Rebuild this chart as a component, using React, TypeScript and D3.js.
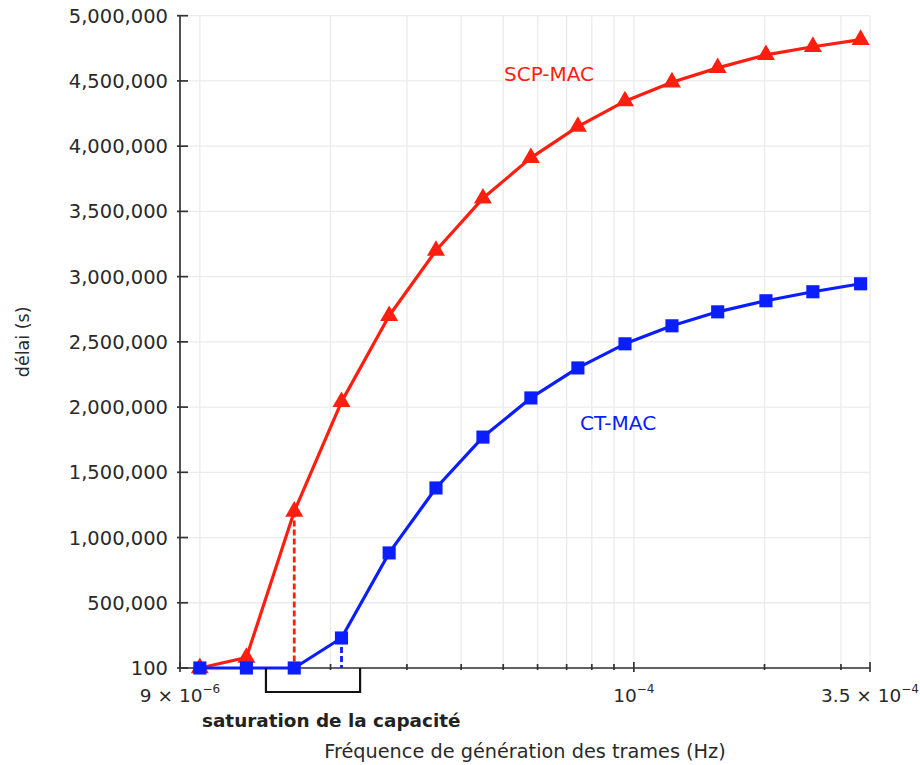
import React from "react";
import * as d3 from "d3";

const freq = [1e-5, 1.28e-5, 1.65e-5, 2.12e-5, 2.73e-5, 3.5e-5, 4.49e-5, 5.79e-5, 7.43e-5, 9.54e-5, 1.224e-4, 1.56e-4, 2.015e-4, 2.585e-4, 3.33e-4];
const scpMac = [100, 80000, 1200000, 2040000, 2700000, 3200000, 3600000, 3910000, 4150000, 4345000, 4490000, 4600000, 4700000, 4762000, 4816000];
const ctMac = [100, 100, 100, 230000, 882000, 1380000, 1770000, 2070000, 2300000, 2485000, 2623000, 2730000, 2815000, 2884000, 2945000];
const yTicks = [100, 500000, 1000000, 1500000, 2000000, 2500000, 3000000, 3500000, 4000000, 4500000, 5000000];
const xMinorTicks = [1e-5, 2e-5, 3e-5, 4e-5, 5e-5, 6e-5, 7e-5, 8e-5, 9e-5, 2e-4, 3e-4];
const xMajorTicks = [9e-6, 1e-4, 3.5e-4];
const xTickLabels = [
  { v: 9e-6, base: "9 \u00d7 10", sup: "\u22126" },
  { v: 1e-4, base: "10", sup: "\u22124" },
  { v: 3.5e-4, base: "3.5 \u00d7 10", sup: "\u22124" },
];
const saturationRange = [1.42e-5, 2.34e-5];
const scpSatIndex = 2;
const ctSatIndex = 3;

const RED = "#ff1e0f";
const BLUE = "#0a1eff";
const FONT = "'DejaVu Sans', sans-serif";

export default function App() {
  const x = d3.scaleLog().domain([9e-6, 3.5e-4]).range([180, 870]);
  const y = d3.scaleLinear().domain([0, 5000000]).range([668, 15.7]);
  const fmt = d3.format(",");
  const line = d3
    .line<[number, number]>()
    .x((d) => x(d[0]))
    .y((d) => y(d[1]));
  const scpPts: [number, number][] = freq.map((f, i) => [f, scpMac[i]]);
  const ctPts: [number, number][] = freq.map((f, i) => [f, ctMac[i]]);
  const tri = d3.symbol().type(d3.symbolTriangle).size(140)()!;
  const sq = d3.symbol().type(d3.symbolSquare).size(172)()!;
  const y0 = y(0);
  const gridV = [...xMinorTicks, 1e-4, 3.5e-4];

  return (
    <svg
      width={920}
      height={765}
      style={{ position: "absolute", left: 0, top: 0, background: "#fff" }}
      fontFamily={FONT}
    >
      <rect x={0} y={0} width={920} height={765} fill="#fff" />
      {/* grid */}
      <g stroke="#ebebeb" strokeWidth={1.3}>
        {gridV.map((v, i) => (
          <line key={"gv" + i} x1={x(v)} x2={x(v)} y1={y(5000000)} y2={y0} />
        ))}
        {yTicks.map((v, i) => (
          <line key={"gh" + i} x1={x(9e-6)} x2={x(3.5e-4)} y1={y(v)} y2={y(v)} />
        ))}
      </g>
      {/* axes */}
      <g stroke="#333" strokeWidth={1.7}>
        <line x1={x(9e-6)} x2={x(9e-6)} y1={y(5000000)} y2={y0} />
        <line x1={x(9e-6)} x2={x(3.5e-4)} y1={y0} y2={y0} />
        {yTicks.map((v, i) => (
          <line key={"yt" + i} x1={x(9e-6) - 3} x2={x(9e-6) + 8} y1={y(v)} y2={y(v)} />
        ))}
        {xMinorTicks.map((v, i) => (
          <line key={"xm" + i} x1={x(v)} x2={x(v)} y1={y0 - 4} y2={y0 + 2} />
        ))}
        {xMajorTicks.map((v, i) => (
          <line key={"xM" + i} x1={x(v)} x2={x(v)} y1={y0 - 6} y2={y0 + 4} />
        ))}
      </g>
      {/* y tick labels */}
      <g fontSize={19.5} fill="#2a2a2a" textAnchor="end">
        {yTicks.map((v, i) => (
          <text key={"yl" + i} x={168} y={y(v)} dy="0.36em">
            {fmt(v)}
          </text>
        ))}
      </g>
      {/* x tick labels */}
      <g fill="#2a2a2a" textAnchor="middle">
        {xTickLabels.map((t, i) => (
          <text key={"xl" + i} x={x(t.v)} y={702} fontSize={18.5}>
            {t.base}
            <tspan fontSize={12} dy={-9}>
              {t.sup}
            </tspan>
          </text>
        ))}
      </g>
      {/* dashed saturation lines */}
      <line
        x1={x(freq[scpSatIndex])}
        x2={x(freq[scpSatIndex])}
        y1={y(scpMac[scpSatIndex])}
        y2={y0}
        stroke={RED}
        strokeWidth={2.8}
        strokeDasharray="6 3"
      />
      <line
        x1={x(freq[ctSatIndex])}
        x2={x(freq[ctSatIndex])}
        y1={y(ctMac[ctSatIndex])}
        y2={y0}
        stroke={BLUE}
        strokeWidth={2.8}
        strokeDasharray="6 3"
      />
      {/* series */}
      <path d={line(scpPts)!} fill="none" stroke={RED} strokeWidth={3.2} strokeLinejoin="round" />
      {scpPts.map((p, i) => (
        <path key={"tr" + i} d={tri} transform={`translate(${x(p[0])},${y(p[1])})`} fill={RED} />
      ))}
      <path d={line(ctPts)!} fill="none" stroke={BLUE} strokeWidth={3.2} strokeLinejoin="round" />
      {ctPts.map((p, i) => (
        <path key={"sq" + i} d={sq} transform={`translate(${x(p[0])},${y(p[1])})`} fill={BLUE} />
      ))}
      {/* bracket */}
      <path
        d={`M${x(saturationRange[0])},${y0}V${y0 + 24}H${x(saturationRange[1])}V${y0}`}
        fill="none"
        stroke="#111"
        strokeWidth={2.2}
      />
      <text x={202} y={727} fontSize={18.4} fontWeight="bold" fill="#222">
        saturation de la capacité
      </text>
      {/* series labels */}
      <text x={504} y={74} dy="0.36em" fontSize={20} fill={RED}>
        SCP-MAC
      </text>
      <text x={580} y={423} dy="0.36em" fontSize={20} fill={BLUE}>
        CT-MAC
      </text>
      {/* axis titles */}
      <text x={525} y={758} textAnchor="middle" fontSize={19.3} fill="#2a2a2a">
        Fréquence de génération des trames (Hz)
      </text>
      <text
        transform={`translate(29,${(y(5000000) + y0) / 2}) rotate(-90)`}
        textAnchor="middle"
        fontSize={17.5}
        fill="#2a2a2a"
      >
        délai (s)
      </text>
    </svg>
  );
}
